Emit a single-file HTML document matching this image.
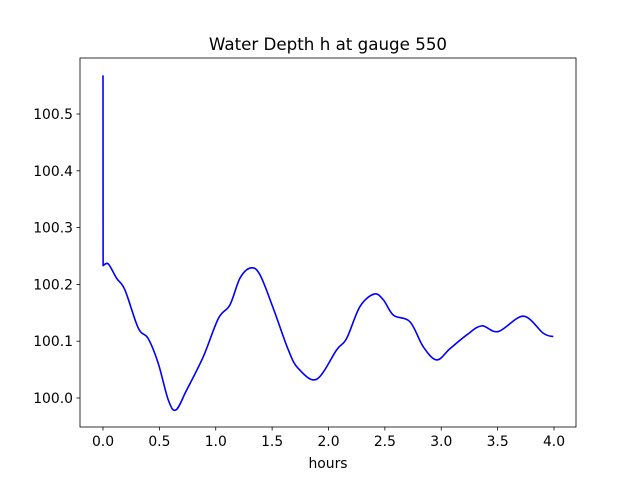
<!DOCTYPE html>
<html><head><meta charset="utf-8"><style>
body{margin:0;background:#fff}
svg text{font-family:"DejaVu Sans","Liberation Sans",sans-serif;font-size:13.9px;fill:#000}
</style></head><body>
<svg id="chart" width="640" height="480" xmlns="http://www.w3.org/2000/svg">
<rect width="640" height="480" fill="#fff"/>
<text x="328" y="50" text-anchor="middle" style="font-size:16.7px">Water Depth h at gauge 550</text>
<text x="328" y="468" text-anchor="middle">hours</text>
<g id="xt"></g><g id="yt"></g>
<path id="line" fill="none" stroke="#0000ff" stroke-width="1.6" stroke-linejoin="round"/>
<rect x="80" y="58" width="496" height="369" fill="none" stroke="#000" stroke-width="0.8"/>
</svg>
<script>
const hours=[0,0.001,0.047,0.12,0.195,0.313,0.40,0.49,0.58,0.647,0.742,0.89,1.023,1.126,1.215,1.31,1.392,1.51,1.643,1.732,1.895,2.073,2.161,2.279,2.404,2.486,2.575,2.723,2.841,2.96,3.078,3.226,3.358,3.506,3.728,3.905,3.994];
const depth=[100.568,100.233,100.236,100.211,100.19,100.123,100.105,100.061,99.996,99.979,100.014,100.073,100.14,100.164,100.211,100.229,100.217,100.158,100.085,100.052,100.033,100.085,100.105,100.161,100.183,100.173,100.146,100.134,100.09,100.067,100.087,100.111,100.127,100.117,100.144,100.114,100.108];
const xTicks=[0,0.5,1,1.5,2,2.5,3,3.5,4];
const yTicks=[100.0,100.1,100.2,100.3,100.4,100.5];
const X=v=>103+v*112.75;
const Y=v=>398-(v-100)*568;
const NS="http://www.w3.org/2000/svg";
const xt=document.getElementById('xt'),yt=document.getElementById('yt');
xTicks.forEach(t=>{
 const l=document.createElementNS(NS,'line');
 l.setAttribute('x1',X(t));l.setAttribute('x2',X(t));l.setAttribute('y1',427);l.setAttribute('y2',430.5);l.setAttribute('stroke','#000');l.setAttribute('stroke-width','0.8');
 
 
 xt.appendChild(l);
 const s=document.createElementNS(NS,'text');
 s.setAttribute('x',X(t));s.setAttribute('y',446);s.setAttribute('text-anchor','middle');s.textContent=t.toFixed(1);
 
 
 xt.appendChild(s);
});
yTicks.forEach(t=>{
 const l=document.createElementNS(NS,'line');
 l.setAttribute('x1',76.5);l.setAttribute('x2',80);l.setAttribute('y1',Y(t));l.setAttribute('y2',Y(t));l.setAttribute('stroke','#000');l.setAttribute('stroke-width','0.8');
 
 
 yt.appendChild(l);
 const s=document.createElementNS(NS,'text');
 s.setAttribute('x',73);s.setAttribute('y',Y(t)+5);s.setAttribute('text-anchor','end');s.textContent=t.toFixed(1);
 
 
 yt.appendChild(s);
});
const pts=hours.map((h,i)=>[X(h),Y(depth[i])]);
let d='M'+pts[0][0]+','+pts[0][1]+' L'+pts[1][0]+','+pts[1][1];
for(let i=1;i<pts.length-1;i++){
 const p0=pts[Math.max(i-1,1)],p1=pts[i],p2=pts[i+1],p3=pts[Math.min(i+2,pts.length-1)];
 const c1=[p1[0]+(p2[0]-p0[0])/6,p1[1]+(p2[1]-p0[1])/6];
 const c2=[p2[0]-(p3[0]-p1[0])/6,p2[1]-(p3[1]-p1[1])/6];
 d+=' C'+c1+' '+c2+' '+p2;
}
document.getElementById('line').setAttribute('d',d);
</script>
</body></html>
